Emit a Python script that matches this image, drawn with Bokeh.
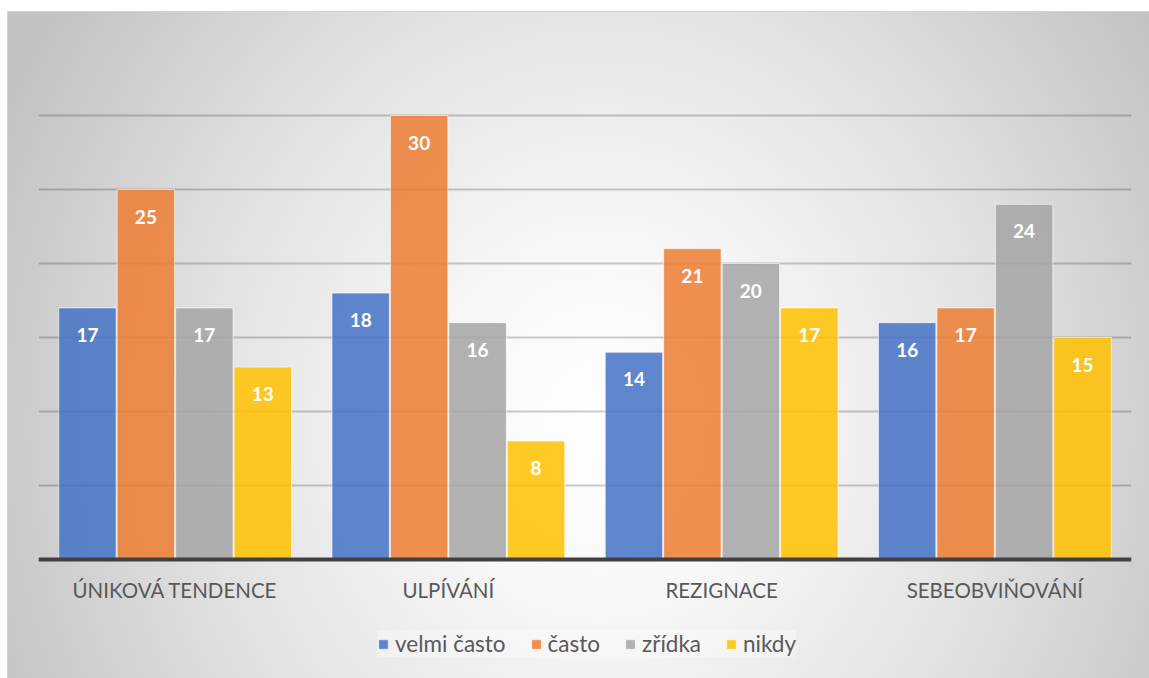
from bokeh.plotting import figure
from bokeh.models import ColumnDataSource, FactorRange, FixedTicker, Legend, LegendItem
from bokeh.transform import dodge
from bokeh.core.properties import value
from bokeh.embed import file_html
from bokeh.resources import INLINE

categories = ["ÚNIKOVÁ TENDENCE", "ULPÍVÁNÍ", "REZIGNACE", "SEBEOBVIŇOVÁNÍ"]
series_names = ["velmi často", "často", "zřídka", "nikdy"]
velmi_casto = [17, 18, 14, 16]
casto = [25, 30, 21, 17]
zridka = [17, 16, 20, 24]
nikdy = [13, 8, 17, 15]
grid_ticks = [5, 10, 15, 20, 25, 30, 35]
colors = ["#4472C4", "#ED7D31", "#A5A5A5", "#FFC000"]

data = {"cat": categories, "s0": velmi_casto, "s1": casto, "s2": zridka, "s3": nikdy}
for i in range(4):
    data[f"l{i}"] = [str(v) for v in data[f"s{i}"]]
src = ColumnDataSource(data)

px_per_unit = 518 / 35.0
p = figure(x_range=FactorRange(*categories, range_padding=0), y_range=(-119 / px_per_unit, 35),
           width=1149, height=678, output_backend="svg", toolbar_location=None,
           min_border_left=38, min_border_right=18, min_border_top=41, min_border_bottom=0)
p.styles = {"background":
            "linear-gradient(#d4d4d4, #d4d4d4) 7px 11px / 1142px 1px no-repeat, "
            "linear-gradient(#d4d4d4, #d4d4d4) 7px 11px / 1px 667px no-repeat, "
            "radial-gradient(ellipse 58% 110% at 52% 62%, #ffffff 0%, #f7f7f7 25%, #e2e2e2 60%, #c2c2c2 100%) "
            "7px 11px / 1142px 667px no-repeat, #ffffff"}
p.background_fill_color = None
p.border_fill_color = None
p.outline_line_color = None

bw = 0.214
offsets = [-1.5 * bw, -0.5 * bw, 0.5 * bw, 1.5 * bw]
items = []
for i in range(4):
    r = p.vbar(x=dodge("cat", offsets[i], range=p.x_range), top=f"s{i}", width=bw - 0.004,
               source=src, fill_color=colors[i], fill_alpha=0.85,
               line_color="#ffffff", line_alpha=0.6, line_width=1)
    p.text(x=dodge("cat", offsets[i], range=p.x_range), y=f"s{i}", text=f"l{i}", source=src,
           text_color="white", text_font=value("Lato"), text_font_style="bold",
           text_font_size="19px", text_align="center", text_baseline="middle", y_offset=27)
    items.append(LegendItem(label=series_names[i], renderers=[r]))

p.yaxis.visible = False
p.yaxis.ticker = FixedTicker(ticks=grid_ticks)
p.ygrid.grid_line_color = "#000000"
p.ygrid.grid_line_alpha = 0.2
p.ygrid.grid_line_width = 2
p.xgrid.grid_line_color = None

p.xaxis.fixed_location = 0
p.xaxis.axis_line_color = "#404040"
p.xaxis.axis_line_width = 4
p.xaxis.major_tick_line_color = None
p.xaxis.minor_tick_line_color = None
p.xaxis.major_label_text_font = "Lato"
p.xaxis.major_label_text_font_size = "20.5px"
p.xaxis.major_label_text_color = "#595959"
p.xaxis.major_label_standoff = 12

legend = Legend(items=items, orientation="horizontal", location=(339, 21),
                glyph_width=12, glyph_height=12, label_standoff=6, spacing=24,
                label_text_font="Lato", label_text_font_size="22.5px", label_text_color="#595959",
                background_fill_color="#ffffff", background_fill_alpha=0.3,
                border_line_color=None, padding=10, margin=0)
p.add_layout(legend, "center")

open("out.html", "w").write(file_html(p, INLINE))
